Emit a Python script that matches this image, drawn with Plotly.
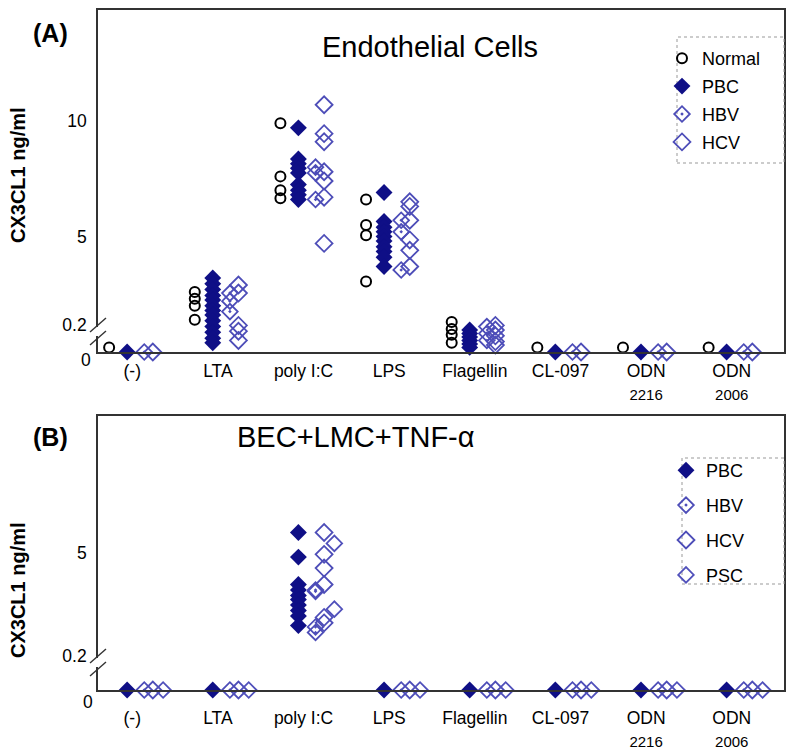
import plotly.graph_objects as go

W, H = 800, 749

categories = ["(-)", "LTA", "poly I:C", "LPS", "Flagellin", "CL-097",
              "ODN<br><span style='font-size:15px'>2216</span>",
              "ODN<br><span style='font-size:15px'>2006</span>"]

# (A) Endothelial cells, CX3CL1 ng/ml per stimulus
a_normal = [[0.2], [2.6, 2.3, 2.0, 1.4], [9.9, 7.6, 7.0, 6.65], [6.6, 5.5, 5.05, 3.05],
            [1.3, 1.0, 0.75, 0.4], [0.2], [0.2], [0.2]]
a_pbc = [[0],
         [3.2, 2.95, 2.7, 2.45, 2.25, 2.0, 1.8, 1.6, 1.35, 1.1, 0.85, 0.6, 0.4],
         [9.7, 8.35, 8.15, 7.95, 7.75, 7.25, 7.0, 6.8, 6.6],
         [6.9, 5.65, 5.4, 5.2, 5.0, 4.8, 4.55, 4.35, 4.1, 3.7],
         [0.95, 0.8, 0.65, 0.5, 0.35, 0.2],
         [0], [0], [0]]
a_hbv = [[0], [2.55, 2.2, 1.75], [8.0, 7.75, 6.6], [5.7, 5.2, 3.55],
         [1.1, 0.8, 0.5], [0], [0], [0]]
a_hcv = [[0], [2.9, 2.55, 1.15, 0.9, 0.5], [10.7, 9.45, 9.1, 7.8, 7.4, 6.7, 4.7],
         [6.5, 6.3, 5.7, 4.85, 4.4, 3.7], [1.15, 0.95, 0.7, 0.45, 0.3], [0], [0], [0]]

# (B) BEC+LMC+TNF-a
b_pbc = [[0], [0], [5.75, 4.85, 3.85, 3.65, 3.45, 3.3, 3.1, 2.9, 2.7, 2.35],
         [0], [0], [0], [0], [0]]
b_hbv = [[0], [0], [3.6, 3.65, 2.3, 2.1], [0], [0], [0], [0], [0]]
b_hcv = [[0], [0], [5.75, 4.95, 4.45, 3.85, 2.65, 2.45], [0], [0], [0], [0], [0]]
b_psc = [[0], [0], [5.35, 2.95], [0], [0], [0], [0], [0]]

NAVY = "#0f0f86"
BLUE = "#4d4db8"
FONT = "Liberation Sans, Arial, sans-serif"


def px(x, y):
    return x / W, 1 - y / H


def series(groups, offset):
    xs, ys = [], []
    for i, vals in enumerate(groups):
        for v in vals:
            xs.append(i + offset)
            ys.append(v)
    return xs, ys


styles = {
    "Normal": dict(symbol="circle-open", size=10, color="black", line=dict(width=2, color="black")),
    "PBC": dict(symbol="diamond", size=13, color=NAVY, line=dict(width=0)),
    "HBV": dict(symbol="diamond-open-dot", size=12, color=BLUE, line=dict(width=1.8, color=BLUE)),
    "HCV": dict(symbol="diamond-open", size=13, color=BLUE, line=dict(width=1.8, color=BLUE)),
    "PSC": dict(symbol="diamond-open", size=12, color="#5050bb", line=dict(width=1.8, color="#5050bb")),
}

fig = go.Figure()

panel_a = [("Normal", a_normal, -0.21), ("PBC", a_pbc, 0.0), ("HBV", a_hbv, 0.2), ("HCV", a_hcv, 0.3)]
for name, data, off in panel_a:
    xs, ys = series(data, off)
    fig.add_trace(go.Scatter(x=xs, y=ys, mode="markers", name=name, marker=styles[name],
                             xaxis="x", yaxis="y", cliponaxis=False, legend="legend",
                             legendgroup="a" + name))

panel_b = [("PBC", b_pbc, 0.0), ("HBV", b_hbv, 0.2), ("HCV", b_hcv, 0.3), ("PSC", b_psc, 0.42)]
for name, data, off in panel_b:
    xs, ys = series(data, off)
    fig.add_trace(go.Scatter(x=xs, y=ys, mode="markers", name=name, marker=styles[name],
                             xaxis="x2", yaxis="y2", cliponaxis=False, legend="legend2",
                             legendgroup="b" + name))

frame = dict(showline=True, mirror=True, linecolor="#333", linewidth=1.6, showgrid=False,
             zeroline=False, ticks="", tickfont=dict(size=17.5, color="black", family=FONT))
xr = [-0.34, 7.67]
ticks_x = [i + 0.06 for i in range(8)]
fig.update_layout(
    width=W, height=H, margin=dict(l=0, r=0, t=0, b=0),
    paper_bgcolor="white", plot_bgcolor="white",
    font=dict(family=FONT, color="black"),
    xaxis=dict(frame, domain=[98 / W, 784 / W], range=xr, tickvals=ticks_x,
               ticktext=categories, anchor="y", ticklabelstandoff=2),
    yaxis=dict(frame, domain=[1 - 352 / H, 1 - 10 / H], range=[0, 14.8],
               tickvals=[1.17, 5, 10], ticktext=["0.2", "5", "10"], anchor="x",
               ticklabelstandoff=6),
    xaxis2=dict(frame, domain=[98 / W, 784 / W], range=xr, tickvals=ticks_x,
                ticktext=categories, anchor="y2", ticklabelstandoff=11),
    yaxis2=dict(frame, domain=[1 - 690 / H, 1 - 416 / H], range=[0, 10],
                tickvals=[1.24, 5], ticktext=["0.2", "5"], anchor="x2",
                ticklabelstandoff=6),
    legend=dict(x=662 / W, y=1 - 40 / H, xanchor="left", yanchor="top",
                bgcolor="rgba(0,0,0,0)", font=dict(size=18, family=FONT),
                tracegroupgap=1.5, itemsizing="trace"),
    legend2=dict(x=666 / W, y=1 - 452 / H, xanchor="left", yanchor="top",
                 bgcolor="rgba(0,0,0,0)", font=dict(size=18, family=FONT),
                 tracegroupgap=8.5, itemsizing="trace"),
)

annotations = [
    dict(text="<b>(A)</b>", x=50, y=33, size=25),
    dict(text="<b>(B)</b>", x=50, y=437, size=25),
    dict(text="Endothelial Cells", x=430, y=47, size=29),
    dict(text="BEC+LMC+TNF-α", x=356, y=437, size=29),
    dict(text="0", x=86, y=360, size=17.5),
    dict(text="0", x=88, y=702, size=17.5),
]
for a in annotations:
    xp, yp = px(a["x"], a["y"])
    fig.add_annotation(text=a["text"], x=xp, y=yp, xref="paper", yref="paper",
                       xanchor="center", yanchor="middle", showarrow=False,
                       font=dict(size=a["size"], family=FONT, color="black"))

for yc in (175, 590):
    xp, yp = px(18, yc)
    fig.add_annotation(text="<b>CX3CL1 ng/ml</b>", x=xp, y=yp, xref="paper", yref="paper",
                       xanchor="center", yanchor="middle", showarrow=False,
                       textangle=-90, font=dict(size=20, family=FONT))

shapes = []
for y_hi, y_lo in ((325, 338), (656, 669)):
    x0, y0 = px(98, y_hi + 2)
    x1, y1 = px(98, y_lo - 2)
    shapes.append(dict(type="line", xref="paper", yref="paper", x0=x0, y0=y0, x1=x1, y1=y1,
                       line=dict(color="white", width=4)))
    for yc in (y_hi, y_lo):
        sx0, sy0 = px(90, yc + 7)
        sx1, sy1 = px(106, yc - 7)
        shapes.append(dict(type="line", xref="paper", yref="paper", x0=sx0, y0=sy0,
                           x1=sx1, y1=sy1, line=dict(color="#333", width=1.4)))

for (lx0, ly0, lx1, ly1) in ((677, 37, 784, 163), (682, 458, 784, 584)):
    x0, y0 = px(lx0, ly0)
    x1, y1 = px(lx1, ly1)
    shapes.append(dict(type="rect", xref="paper", yref="paper", x0=x0, y0=y1, x1=x1, y1=y0,
                       line=dict(color="#999", width=1, dash="dot")))
fig.update_layout(shapes=shapes)

fig.write_html("out.html", config={"displayModeBar": False},
               post_script="document.body.style.margin='0';")
